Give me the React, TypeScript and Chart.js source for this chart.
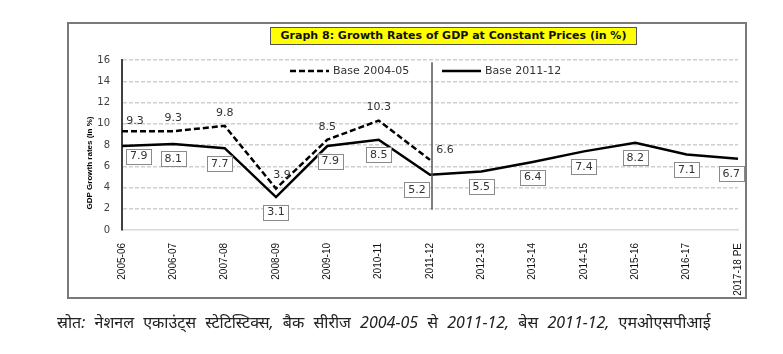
import React, { useEffect, useRef } from "react";
import { Chart, registerables } from "chart.js";

Chart.register(...registerables);

const categories = [
  "2005-06", "2006-07", "2007-08", "2008-09", "2009-10", "2010-11", "2011-12",
  "2012-13", "2013-14", "2014-15", "2015-16", "2016-17", "2017-18 PE",
];
const base200405: (number | null)[] = [9.3, 9.3, 9.8, 3.9, 8.5, 10.3, 6.6, null, null, null, null, null, null];
const base201112: number[] = [7.9, 8.1, 7.7, 3.1, 7.9, 8.5, 5.2, 5.5, 6.4, 7.4, 8.2, 7.1, 6.7];
const seriesNames = ["Base 2004-05", "Base 2011-12"];
const yMin = 0;
const yMax = 16;
const yStep = 2;
const splitCategory = "2011-12";
const titleText = "Graph 8: Growth Rates of GDP at Constant Prices (in %)";
const yAxisTitle = "GDP Growth rates (in %)";
const sourceText = "स्रोत: नेशनल एकाउंट्स स्टेटिस्टिक्स, बैक सीरीज 2004-05 से 2011-12, बेस 2011-12, एमओएसपीआई";

const valueLabelPlugin = {
  id: "valueLabels",
  afterDatasetsDraw(chart: any) {
    const ctx = chart.ctx;
    const area = chart.chartArea;
    ctx.save();

    // y axis title
    ctx.save();
    ctx.translate(area.left - 32, area.top + 103);
    ctx.rotate(-Math.PI / 2);
    ctx.font = "bold 8px 'Liberation Sans'";
    ctx.fillStyle = "#000";
    ctx.textAlign = "center";
    ctx.textBaseline = "middle";
    ctx.fillText(yAxisTitle, 0, 0);
    ctx.restore();

    ctx.font = "11px 'DejaVu Sans'";
    ctx.textAlign = "center";
    ctx.textBaseline = "middle";

    // split line
    const xs = chart.scales.x;
    const ys = chart.scales.y;
    const sx = xs.getPixelForValue(categories.indexOf(splitCategory)) + 2;
    ctx.strokeStyle = "#555";
    ctx.lineWidth = 1.5;
    ctx.beginPath();
    ctx.moveTo(sx, ys.getPixelForValue(15.8));
    ctx.lineTo(sx, ys.getPixelForValue(1.9));
    ctx.stroke();

    const upShift: Record<number, number> = { 0: 13, 3: 6, 6: 15 };
    const m0 = chart.getDatasetMeta(0);
    m0.data.forEach((pt: any, i: number) => {
      const v = base200405[i];
      if (v == null) return;
      const x = pt.x + (upShift[i] || 0);
      const y = pt.y - (i === 0 || i === 6 ? 10 : 13);
      ctx.fillStyle = "#333";
      ctx.fillText(v.toFixed(1), x, y);
    });

    const downShift: Record<number, number> = { 2: -5, 4: 3, 6: -13 };
    const m1 = chart.getDatasetMeta(1);
    m1.data.forEach((pt: any, i: number) => {
      const txt = base201112[i].toFixed(1);
      const w = ctx.measureText(txt).width + 8;
      const h = 15;
      let x = pt.x + (downShift[i] || 0);
      x = Math.max(area.left + w / 2 + 4, Math.min(area.right - w / 2 + 6, x));
      const y = pt.y + (i === 0 ? 10 : 15);
      ctx.fillStyle = "#fff";
      ctx.fillRect(x - w / 2, y - h / 2, w, h);
      ctx.strokeStyle = "#8a8a8a";
      ctx.lineWidth = 1;
      ctx.strokeRect(Math.round(x - w / 2) + 0.5, Math.round(y - h / 2) + 0.5, Math.round(w), h);
      ctx.fillStyle = "#333";
      ctx.fillText(txt, x, y + 0.5);
    });

    // legend
    const ly = area.top + 11;
    const items = [
      { x: area.left + 168, dash: [6, 3] },
      { x: area.left + 320, dash: [] as number[] },
    ];
    items.forEach((it, i) => {
      ctx.strokeStyle = "#000";
      ctx.lineWidth = 2.5;
      ctx.setLineDash(it.dash);
      ctx.beginPath();
      ctx.moveTo(it.x, ly);
      ctx.lineTo(it.x + 39, ly);
      ctx.stroke();
      ctx.setLineDash([]);
      ctx.fillStyle = "#333";
      ctx.textAlign = "left";
      ctx.fillText(seriesNames[i], it.x + 43, ly);
    });
    ctx.restore();
  },
};

export default function App() {
  const canvasRef = useRef<HTMLCanvasElement | null>(null);

  useEffect(() => {
    const canvas = canvasRef.current;
    if (!canvas) return;
    const chart = new Chart(canvas, {
      type: "line",
      data: {
        labels: categories,
        datasets: [
          {
            label: seriesNames[0],
            data: base200405,
            borderColor: "#000",
            borderWidth: 2.5,
            borderDash: [6, 3],
            pointRadius: 0,
            tension: 0,
            fill: false,
          },
          {
            label: seriesNames[1],
            data: base201112,
            borderColor: "#000",
            borderWidth: 2.5,
            pointRadius: 0,
            tension: 0,
            fill: false,
          },
        ],
      },
      options: {
        animation: false,
        responsive: false,
        devicePixelRatio: 1,
        layout: { padding: { left: 82, top: 60, right: 45, bottom: 0 } },
        plugins: {
          legend: { display: false },
          tooltip: { enabled: false },
          title: { display: false },
        },
        scales: {
          x: {
            type: "category",
            offset: false,
            grid: { display: false, drawTicks: false },
            border: { display: true, color: "#d9d9d9", width: 1.5 },
            ticks: {
              autoSkip: false,
              maxRotation: 90,
              minRotation: 90,
              padding: 13,
              color: "#111",
              font: { family: "'Liberation Sans'", size: 10 },
            },
            afterFit: (scale: any) => {
              scale.height = 124;
            },
          },
          y: {
            min: yMin,
            max: yMax,
            ticks: {
              stepSize: yStep,
              padding: 12,
              color: "#404040",
              font: { family: "'DejaVu Sans'", size: 10 },
            },
            grid: {
              drawTicks: false,
              lineWidth: 1.5,
              color: (c: any) => (c.tick && c.tick.value === 0 ? "rgba(0,0,0,0)" : "#cfcfcf"),
            },
            border: { display: true, color: "#404040", width: 2, dash: [4, 2] },
            title: { display: false },
            afterFit: (scale: any) => {
              scale.width = 40;
            },
          },
        },
      },
      plugins: [valueLabelPlugin],
    });
    return () => chart.destroy();
  }, []);

  return (
    <div style={{ position: "fixed", left: 0, top: 0, width: 783, height: 354, background: "#fff", overflow: "hidden" }}>
      <canvas ref={canvasRef} width={783} height={354} style={{ position: "absolute", left: 0, top: 0, width: 783, height: 354 }} />
      <div
        style={{
          position: "absolute", left: 67, top: 22, width: 680, height: 277,
          boxSizing: "border-box", border: "2px solid #7a7a7a", pointerEvents: "none",
        }}
      />
      <div
        style={{
          position: "absolute", left: 270, top: 27, width: 367, height: 18,
          boxSizing: "border-box", background: "#ffff00", border: "1px solid #555",
          fontFamily: "'DejaVu Sans', sans-serif", fontWeight: "bold", fontSize: 11,
          lineHeight: "16px", textAlign: "center", color: "#111", whiteSpace: "nowrap",
        }}
      >
        {titleText}
      </div>
      <div
        style={{
          position: "absolute", left: 57, top: 311, fontFamily: "'Noto Sans', sans-serif",
          fontStyle: "italic", fontSize: 16, wordSpacing: 5, color: "#222", whiteSpace: "nowrap",
        }}
      >
        {sourceText}
      </div>
    </div>
  );
}
